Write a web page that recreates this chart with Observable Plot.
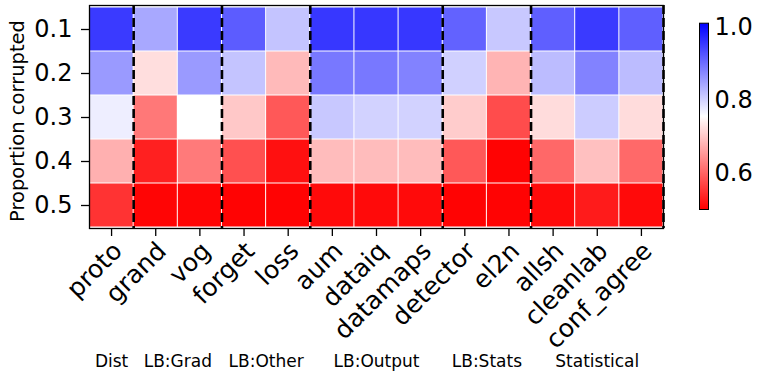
<!DOCTYPE html>
<html>
<head>
<meta charset="utf-8">
<script src="https://cdn.jsdelivr.net/npm/d3@7"></script>
<script src="https://cdn.jsdelivr.net/npm/@observablehq/plot@0.6"></script>
<style>
  body { margin: 0; background: #fff; }
  #wrap { position: relative; width: 762px; height: 382px; overflow: hidden; }
  #main > svg { position: absolute; left: 0; top: 0; }
  #bar { position: absolute; left: 690px; top: 0; }
</style>
</head>
<body>
<div id="wrap"><div id="main"></div><div id="bar"></div></div>
<script>
// ---- data ----
const methods = ["proto", "grand", "vog", "forget", "loss", "aum", "dataiq", "datamaps", "detector", "el2n", "allsh", "cleanlab", "conf_agree"];
const proportions = ["0.1", "0.2", "0.3", "0.4", "0.5"];
const acc01 = [0.952, 0.842, 0.952, 0.918, 0.814, 0.955, 0.955, 0.955, 0.912, 0.810, 0.915, 0.952, 0.915];
const acc02 = [0.856, 0.722, 0.856, 0.814, 0.686, 0.890, 0.890, 0.880, 0.802, 0.680, 0.822, 0.880, 0.822];
const acc03 = [0.772, 0.620, 0.755, 0.700, 0.588, 0.810, 0.800, 0.800, 0.704, 0.576, 0.720, 0.806, 0.720];
const acc04 = [0.676, 0.532, 0.622, 0.580, 0.516, 0.688, 0.688, 0.688, 0.588, 0.503, 0.604, 0.692, 0.605];
const acc05 = [0.551, 0.505, 0.505, 0.503, 0.503, 0.510, 0.510, 0.510, 0.503, 0.503, 0.510, 0.527, 0.510];
const groupNames = ["Dist", "LB:Grad", "LB:Other", "LB:Output", "LB:Stats", "Statistical"];
const groupSizes = [1, 2, 2, 3, 2, 3];
const colorTicks = [0.6, 0.8, 1.0];
const colorDomain = [0.5, 0.755, 1.01];
const yLabel = "Proportion corrupted";

// ---- tables ----
const rows = [acc01, acc02, acc03, acc04, acc05];
const cells = [];
proportions.forEach((p, r) => methods.forEach((m, i) => cells.push({p, m, i, v: rows[r][i]})));
const cols = methods.map((m, i) => ({m, i}));
let s = 0;
const groups = groupNames.map((g, k) => { const d = {g, start: s, end: s + groupSizes[k]}; s = d.end; return d; });

const color = {type: "linear", domain: colorDomain, range: ["#ff0000", "#ffffff", "#0000ff"], interpolate: "rgb"};
const font = "'DejaVu Sans', sans-serif";

const main = Plot.plot({
  width: 762, height: 382,
  marginLeft: 89, marginRight: 99, marginTop: 5, marginBottom: 154,
  style: {fontFamily: font, background: "white", color: "black"},
  x: {domain: [0, methods.length], axis: null},
  y: {domain: proportions, padding: 0, axis: null},
  color,
  marks: [
    Plot.barX(cells, {x1: "i", x2: d => d.i + 1, y: "p", fill: "v", inset: 0.5}),
    Plot.ruleX(groups, {x: "end", stroke: "black", strokeWidth: 2.6, strokeDasharray: "9,4"}),
    Plot.frame({stroke: "black", strokeWidth: 1.3}),
    Plot.axisY({tickSize: 8, tickPadding: 9, fontSize: 24, strokeWidth: 1.3, label: null}),
    Plot.axisX({ticks: cols.map(d => d.i + 0.5), tickSize: 8, strokeWidth: 1.3, fill: "none", label: null}),
    Plot.text(cols, {x: d => d.i + 0.5, text: "m", frameAnchor: "bottom", rotate: -45, textAnchor: "end", lineAnchor: "bottom", dx: 12, dy: 24, fontSize: 25, fill: "black"}),
    Plot.text(groups, {x: d => (d.start + d.end) / 2, text: "g", frameAnchor: "bottom", dy: 138, fontSize: 17, fill: "black"}),
    Plot.text([yLabel], {frameAnchor: "left", rotate: -90, dx: -66, dy: 4, textAnchor: "middle", lineAnchor: "bottom", fontSize: 19.5, fill: "black"})
  ]
});
document.getElementById("main").appendChild(main);

const bar = Plot.plot({
  width: 72, height: 382,
  marginLeft: 9, marginRight: 54, marginTop: 22.7, marginBottom: 173,
  style: {fontFamily: font, background: "transparent", color: "black"},
  x: {domain: [0, 1], axis: null},
  y: {domain: [colorDomain[0], colorDomain[2]], axis: null},
  color,
  marks: [
    Plot.raster({x1: 0, x2: 1, y1: colorDomain[0], y2: colorDomain[2], fill: (x, y) => y}),
    Plot.frame({stroke: "black", strokeWidth: 1}),
    Plot.axisY(colorTicks, {anchor: "right", tickSize: 0, tickPadding: 6, tickFormat: d3.format(".1f"), fontSize: 24, label: null})
  ]
});
document.getElementById("bar").appendChild(bar);
</script>
</body>
</html>
